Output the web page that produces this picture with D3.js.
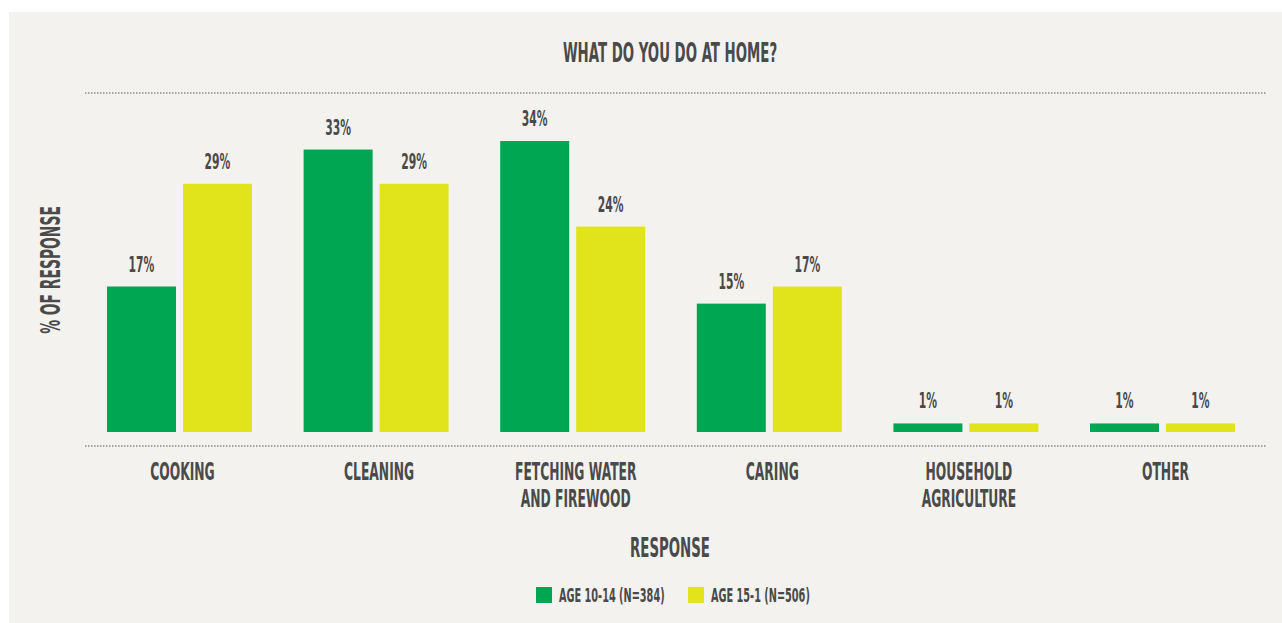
<!DOCTYPE html>
<html>
<head>
<meta charset="utf-8">
<script src="https://cdn.jsdelivr.net/npm/d3@7"></script>
<style>
  html, body { margin: 0; padding: 0; background: #ffffff; }
  svg text { font-family: "Liberation Sans Narrow", "DejaVu Sans Condensed", "Liberation Sans", sans-serif; font-weight: bold; fill: #4a4a4a; }
</style>
</head>
<body>
<svg id="chart" width="1282" height="623"></svg>
<script>
const categories = ["COOKING", "CLEANING", "FETCHING WATER\nAND FIREWOOD", "CARING", "HOUSEHOLD\nAGRICULTURE", "OTHER"];
const age1014 = [17, 33, 34, 15, 1, 1];
const age151 = [29, 29, 24, 17, 1, 1];
const seriesKeys = ["a", "b"];
const seriesNames = ["AGE 10-14 (N=384)", "AGE 15-1 (N=506)"];
const seriesColors = ["#00a651", "#e1e41a"];
const title = "WHAT DO YOU DO AT HOME?";
const xTitle = "RESPONSE";
const yTitle = "% OF RESPONSE";

const svg = d3.select("#chart");
const SX = 0.57; // horizontal condensing for the narrow display face

svg.append("rect").attr("x", 9).attr("y", 12).attr("width", 1273).attr("height", 611).attr("fill", "#f3f2ee");

function label(x, y, str, size, anchor, rot) {
  return svg.append("text")
    .attr("transform", `translate(${x},${y}) rotate(${rot || 0}) scale(${SX},1)`)
    .attr("text-anchor", anchor || "middle")
    .attr("font-size", size)
    .text(str);
}

const x = d3.scaleBand().domain(categories).range([81.2, 1260.8]).paddingInner(0.2625).paddingOuter(0.13125);
const xSub = d3.scaleBand().domain(seriesKeys).range([0, x.bandwidth()]).paddingInner(0.092);
const y = d3.scaleLinear().domain([0, 34]).range([432, 141]);

const rows = categories.map((c, i) => ({ cat: c, vals: [age1014[i], age151[i]] }));

// dotted lines
[93, 446].forEach(yy => {
  svg.append("line").attr("x1", 85).attr("x2", 1266).attr("y1", yy).attr("y2", yy)
    .attr("stroke", "#8c8c8c").attr("stroke-width", 1.5).attr("stroke-dasharray", "1.5,1.5");
});

// bars
const groups = svg.selectAll("g.grp").data(rows).enter().append("g")
  .attr("class", "grp").attr("transform", d => `translate(${x(d.cat)},0)`);

groups.selectAll("rect").data(d => d.vals.map((v, j) => ({ v, k: seriesKeys[j], j })))
  .enter().append("rect")
  .attr("x", d => xSub(d.k)).attr("width", xSub.bandwidth())
  .attr("y", d => y(d.v)).attr("height", d => y(0) - y(d.v))
  .attr("fill", d => seriesColors[d.j]);

rows.forEach(r => {
  r.vals.forEach((v, j) => {
    const cx = x(r.cat) + xSub(seriesKeys[j]) + xSub.bandwidth() / 2;
    label(cx, y(v) - 15, v + "%", 21, "middle");
  });
  const lines = r.cat.split("\n");
  lines.forEach((ln, k) => {
    label(x(r.cat) + x.bandwidth() / 2 + 3, 480 + k * 27, ln, 24, "middle");
  });
});

// titles
label(670, 62, title, 26, "middle");
label(670, 557, xTitle, 26, "middle");
label(60, 270, yTitle, 27, "middle", -90);

// legend
const legX = [536, 688];
seriesNames.forEach((n, j) => {
  svg.append("rect").attr("x", legX[j]).attr("y", 587).attr("width", 16).attr("height", 16).attr("fill", seriesColors[j]);
  label(legX[j] + 23, 602, n, 19, "start");
});
</script>
</body>
</html>
